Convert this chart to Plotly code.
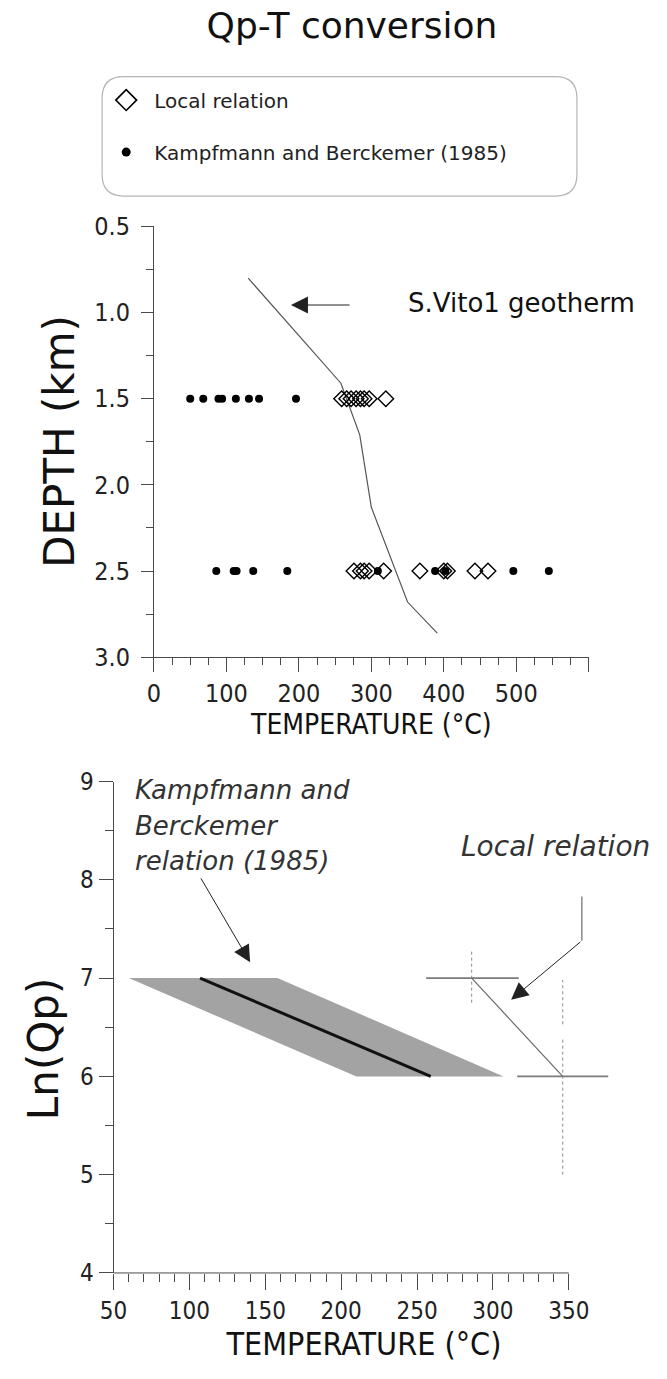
import plotly.graph_objects as go

W, H = 667, 1379

# ---------------- upper panel data (Qp-T conversion at 1.5 and 2.5 km) ----------------
local_T_15 = [259, 266, 272, 279, 285, 290, 297, 320]
local_T_25 = [276, 285, 290, 297, 317, 367, 400, 405, 443, 461]
kb_T_15 = [50, 68, 89, 94, 113, 131, 145, 196]
kb_T_25 = [86, 110, 114, 137, 184, 309, 388, 402, 496, 545]
geo_T = [130, 258, 284, 300, 350, 391]
geo_depth = [0.80, 1.41, 1.71, 2.13, 2.68, 2.86]
upper_xticks = [0, 100, 200, 300, 400, 500, 600]
upper_xticklabels = ["0", "100", "200", "300", "400", "500", ""]
upper_yticks = [0.5, 1.0, 1.5, 2.0, 2.5, 3.0]
upper_yticklabels = ["0.5", "1.0", "1.5", "2.0", "2.5", "3.0"]

# ---------------- lower panel data (Ln(Qp) vs temperature) ----------------
kb_band_T = [60, 158, 307, 210, 60]
kb_band_lnQ = [7, 7, 6, 6, 7]
kb_line_T = [107, 259]
kb_line_lnQ = [7.0, 6.0]
local_line_T = [286, 346]
local_line_lnQ = [7.0, 6.0]
local_hbar_T = [[256, 317], [316, 376]]
local_hbar_lnQ = [7.0, 6.0]
local_vbar_T = [286, 346, 346]
local_vbar_lnQ = [[6.75, 7.27], [6.53, 6.98], [5.0, 6.38]]
lower_xticks = [50, 100, 150, 200, 250, 300, 350]
lower_yticks = [4, 5, 6, 7, 8, 9]

AX = "#4a4a4a"
FONT = "DejaVu Sans"
NARROW = "Liberation Sans Narrow, DejaVu Sans Condensed, Arial Narrow, sans-serif"

fig = go.Figure()

# upper panel traces
fig.add_trace(go.Scatter(x=geo_T, y=geo_depth, mode="lines",
                         line=dict(color="#555555", width=1.2),
                         showlegend=False, xaxis="x", yaxis="y", hoverinfo="skip"))
fig.add_trace(go.Scatter(x=local_T_15 + local_T_25,
                         y=[1.5] * len(local_T_15) + [2.5] * len(local_T_25),
                         mode="markers", name="Local relation", showlegend=False,
                         marker=dict(symbol="diamond-open", size=12, color="black",
                                     line=dict(width=1.4, color="black")),
                         xaxis="x", yaxis="y", legendgroup="a"))
fig.add_trace(go.Scatter(x=kb_T_15 + kb_T_25,
                         y=[1.5] * len(kb_T_15) + [2.5] * len(kb_T_25),
                         mode="markers", name="Kampfmann and Berckemer (1985)", showlegend=False,
                         marker=dict(symbol="circle", size=8, color="black"),
                         xaxis="x", yaxis="y", legendgroup="b"))
# legend entries with the larger key symbols of the original figure
fig.add_trace(go.Scatter(x=[None], y=[None], mode="markers", name="Local relation",
                         marker=dict(symbol="diamond-open", size=16, color="black",
                                     line=dict(width=1.6, color="black")),
                         xaxis="x", yaxis="y", legendgroup="a"))
fig.add_trace(go.Scatter(x=[None], y=[None], mode="markers",
                         name="Kampfmann and Berckemer (1985)",
                         marker=dict(symbol="circle", size=9, color="black"),
                         xaxis="x", yaxis="y", legendgroup="b"))

# lower panel traces
fig.add_trace(go.Scatter(x=kb_band_T, y=kb_band_lnQ, mode="lines", fill="toself",
                         fillcolor="#a3a3a3", line=dict(width=0, color="#a3a3a3"),
                         showlegend=False, xaxis="x2", yaxis="y2", hoverinfo="skip"))
fig.add_trace(go.Scatter(x=kb_line_T, y=kb_line_lnQ, mode="lines",
                         line=dict(color="#111111", width=3),
                         showlegend=False, xaxis="x2", yaxis="y2"))

hx, hy = [], []
for seg, q in zip(local_hbar_T, local_hbar_lnQ):
    hx += seg + [None]
    hy += [q, q, None]
fig.add_trace(go.Scatter(x=hx, y=hy, mode="lines", line=dict(color="#7a7a7a", width=1.6),
                         showlegend=False, xaxis="x2", yaxis="y2", hoverinfo="skip"))
vx, vy = [], []
for t, seg in zip(local_vbar_T, local_vbar_lnQ):
    vx += [t, t, None]
    vy += seg + [None]
fig.add_trace(go.Scatter(x=vx, y=vy, mode="lines",
                         line=dict(color="#8a8a8a", width=1, dash="dot"),
                         showlegend=False, xaxis="x2", yaxis="y2", hoverinfo="skip"))
fig.add_trace(go.Scatter(x=local_line_T, y=local_line_lnQ, mode="lines",
                         line=dict(color="#6a6a6a", width=1.2),
                         showlegend=False, xaxis="x2", yaxis="y2"))
# bent leader of the "Local relation" arrow
fig.add_trace(go.Scatter(x=[358.6, 358.6], y=[7.83, 7.38], mode="lines",
                         line=dict(color="#6a6a6a", width=1.2),
                         showlegend=False, xaxis="x2", yaxis="y2", hoverinfo="skip"))

tickfont_u = dict(family=NARROW, size=25, color="#222")
tickfont_l = dict(family=NARROW, size=24, color="#222")

fig.update_layout(
    width=W, height=H, margin=dict(l=0, r=0, t=0, b=0),
    paper_bgcolor="white", plot_bgcolor="white",
    font=dict(family=FONT, color="#111"),
    title=dict(text="Qp-T conversion", x=352 / W, xanchor="center",
               y=1 - 25 / H, yanchor="middle", font=dict(family=FONT, size=36, color="#111")),
    showlegend=True,
    legend=dict(x=86 / W, y=1 - 68 / H, xanchor="left", yanchor="top",
                bgcolor="rgba(0,0,0,0)", borderwidth=0,
                font=dict(family=FONT, size=20, color="#222"),
                traceorder="grouped", tracegroupgap=23, itemwidth=46),
    xaxis=dict(domain=[143 / W, 587 / W], range=[0, 600], anchor="y",
               showline=True, linecolor=AX, linewidth=1, showgrid=False, zeroline=False,
               ticks="outside", ticklen=14, tickcolor=AX, tickwidth=1,
               tickmode="array", tickvals=upper_xticks, ticktext=upper_xticklabels,
               tickfont=tickfont_u,
               minor=dict(ticks="outside", ticklen=7, tickcolor=AX, dtick=25, tick0=0),
               title=dict(text="TEMPERATURE (°C)", standoff=4,
                          font=dict(family=NARROW, size=28, color="#111"))),
    yaxis=dict(domain=[1 - 657 / H, 1 - 217 / H], range=[3.0, 0.5], anchor="x",
               showline=True, linecolor=AX, linewidth=1, showgrid=False, zeroline=False,
               ticks="outside", ticklen=12, tickcolor=AX, tickwidth=1,
               tickmode="array", tickvals=upper_yticks, ticktext=upper_yticklabels,
               tickfont=tickfont_u, ticklabelstandoff=6,
               minor=dict(ticks="outside", ticklen=7, tickcolor=AX, dtick=0.25, tick0=0.5)),
    xaxis2=dict(domain=[101.7 / W, 613.2 / W], range=[50, 380], anchor="y2",
                showline=False, showgrid=False, zeroline=False,
                ticks="outside", ticklen=16, tickcolor=AX, tickwidth=1,
                tickmode="array", tickvals=lower_xticks, tickfont=tickfont_l,
                minor=dict(ticks="outside", ticklen=8, tickcolor=AX,
                           tickvals=list(range(50, 351, 10))),
                title=dict(text="TEMPERATURE (°C)", standoff=4,
                           font=dict(family=NARROW, size=32, color="#111"))),
    yaxis2=dict(domain=[1 - 1286 / H, 1 - 784 / H], range=[4, 9], anchor="x2",
                showline=True, linecolor=AX, linewidth=1, showgrid=False, zeroline=False,
                ticks="outside", ticklen=14, tickcolor=AX, tickwidth=1,
                tickmode="array", tickvals=lower_yticks, tickfont=tickfont_l,
                minor=dict(ticks="outside", ticklen=8, tickcolor=AX, dtick=0.5, tick0=4)),
)

# y-axis titles
fig.add_annotation(x=47 / W, y=1 - 437 / H, xref="paper", yref="paper",
                   xanchor="center", yanchor="middle", showarrow=False, textangle=-90,
                   text="DEPTH (km)", font=dict(family=FONT, size=42, color="#111"))
fig.add_annotation(x=30 / W, y=1 - 1057 / H, xref="paper", yref="paper",
                   xanchor="center", yanchor="middle", showarrow=False, textangle=-90,
                   text="Ln(Qp)", font=dict(family=FONT, size=42, color="#111"))

# lower x-axis line only over the 50-350 span
y2bottom = 1 - 1286 / H
fig.add_shape(type="line", xref="x2", yref="paper", x0=50, x1=350, y0=y2bottom, y1=y2bottom,
              line=dict(color=AX, width=1))

# rounded legend frame
def P(x, y):
    return f"{x / W:.5f},{1 - y / H:.5f}"

L, T, R, B, r = 90, 64, 575, 186, 22
path = (f"M{P(L + r, T)} L{P(R - r, T)} Q{P(R, T)} {P(R, T + r)} L{P(R, B - r)} "
        f"Q{P(R, B)} {P(R - r, B)} L{P(L + r, B)} Q{P(L, B)} {P(L, B - r)} "
        f"L{P(L, T + r)} Q{P(L, T)} {P(L + r, T)} Z")
fig.add_shape(type="path", path=path, xref="paper", yref="paper",
              line=dict(color="#b5b5b5", width=1.2))

arrow = dict(showarrow=True, arrowhead=2, arrowsize=3.4, arrowwidth=1,
             arrowcolor="#222222", text="")
fig.add_annotation(x=189, y=0.956, ax=272, ay=0.956, xref="x", yref="y",
                   axref="x", ayref="y", **arrow)
fig.add_annotation(x=140, y=7.16, ax=107, ay=8.03, xref="x2", yref="y2",
                   axref="x2", ayref="y2", **arrow)
fig.add_annotation(x=312, y=6.78, ax=358.6, ay=7.38, xref="x2", yref="y2",
                   axref="x2", ayref="y2", **arrow)

fig.add_annotation(x=400 / W, y=1 - 295 / H, xref="paper", yref="paper",
                   xanchor="left", yanchor="middle", showarrow=False,
                   text="S.Vito1 geotherm", font=dict(family=FONT, size=26, color="#111"))
for i, line in enumerate(["Kampfmann and", "Berckemer", "relation (1985)"]):
    fig.add_annotation(x=122 / W, y=1 - (793 + 36 * i) / H, xref="paper", yref="paper",
                       xanchor="left", yanchor="middle", showarrow=False,
                       text=f"<i>{line}</i>", font=dict(family=FONT, size=26, color="#333"))
fig.add_annotation(x=455 / W, y=1 - 850 / H, xref="paper", yref="paper",
                   xanchor="left", yanchor="middle", showarrow=False,
                   text="<i>Local relation</i>", font=dict(family=FONT, size=28, color="#333"))

fig.write_html("out.html")
